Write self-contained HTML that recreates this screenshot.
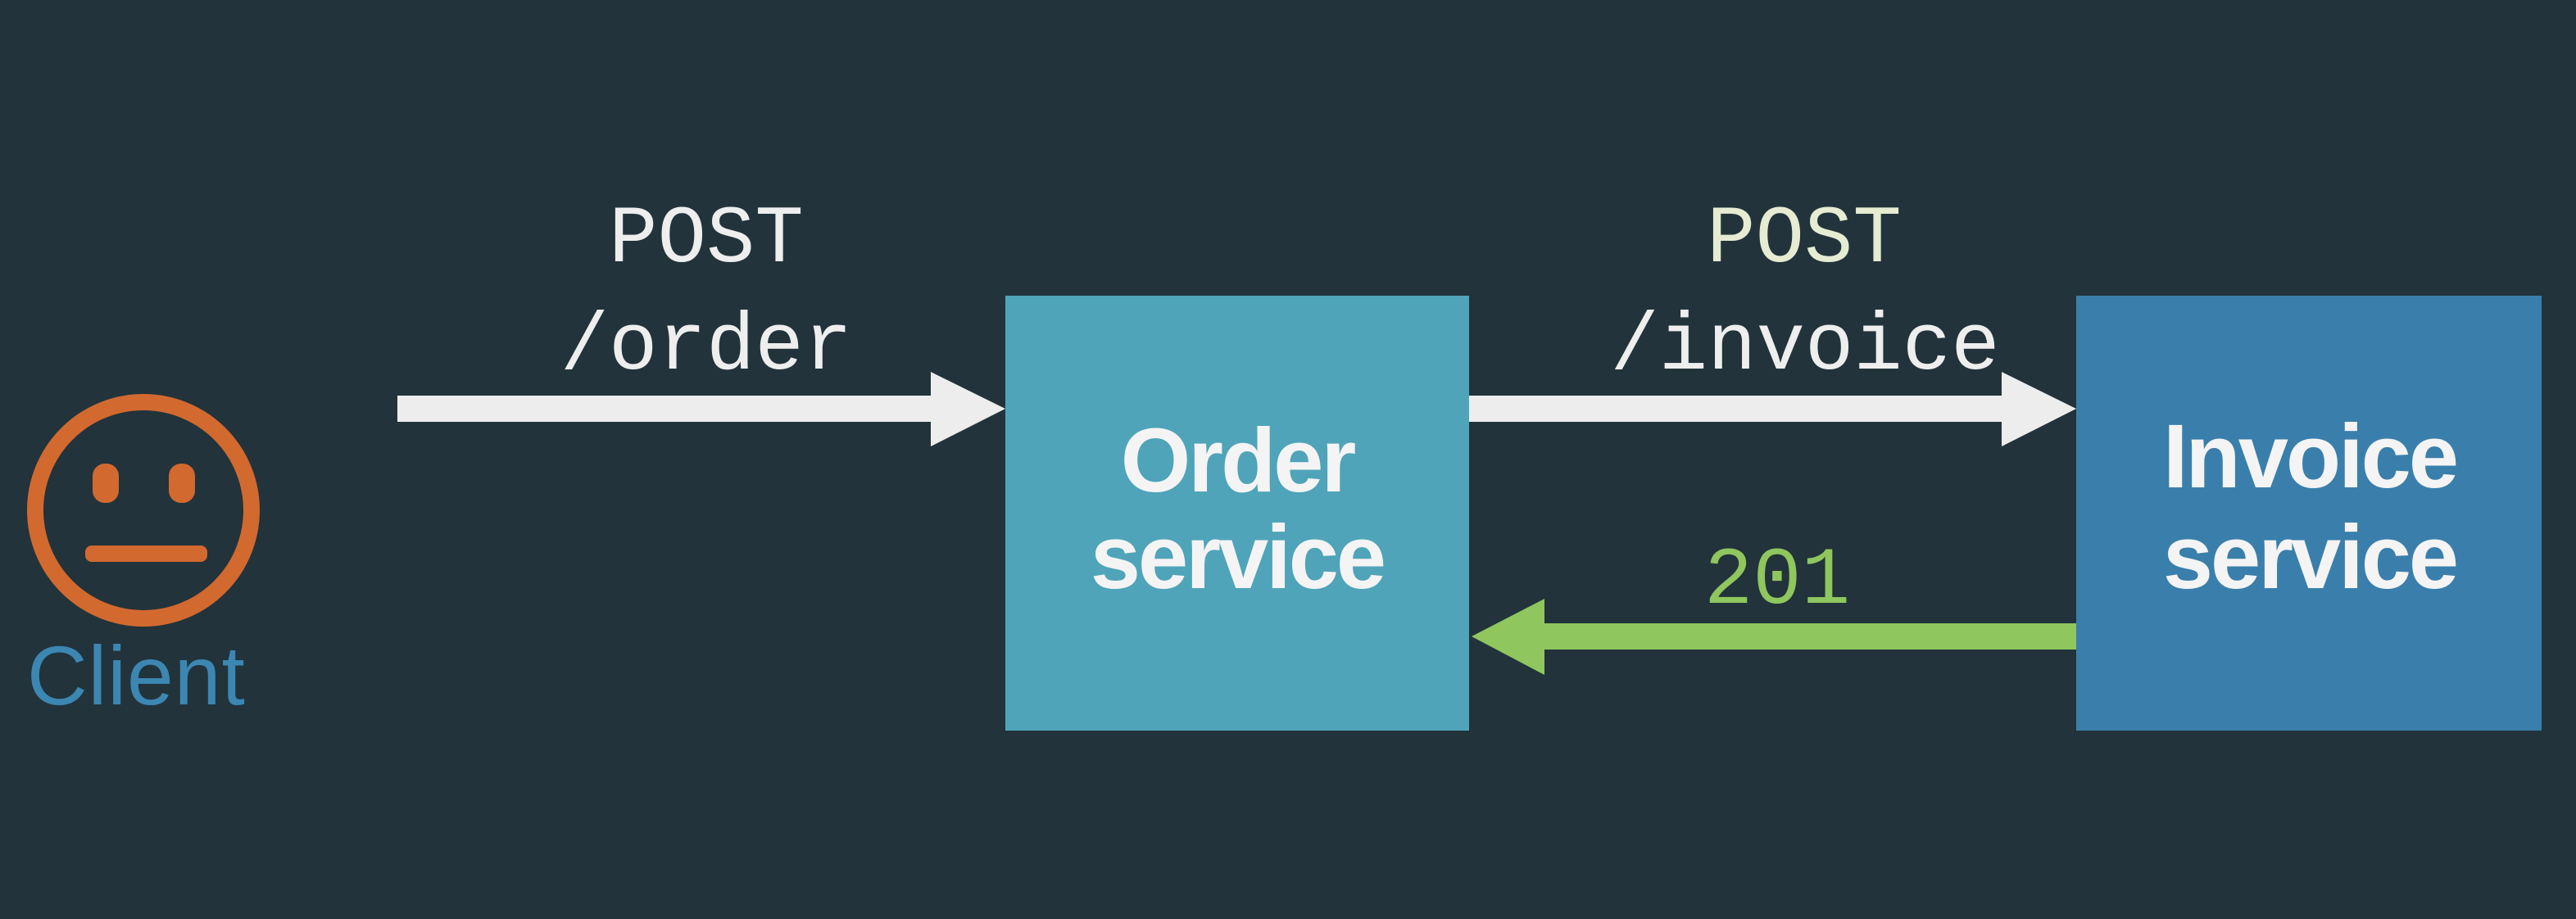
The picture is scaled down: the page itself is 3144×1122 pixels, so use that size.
<!DOCTYPE html>
<html><head><meta charset="utf-8"><style>
html,body{margin:0;padding:0;background:#22333b;}
body{width:3144px;height:1122px;overflow:hidden;position:relative;}
svg{position:absolute;left:0;top:0;}
</style></head><body>
<svg width="3144" height="1122" viewBox="0 0 3144 1122" xmlns="http://www.w3.org/2000/svg">
<rect width="3144" height="1122" fill="#22333b"/>
<rect x="1227" y="361" width="566" height="531" fill="#4fa4b9"/>
<rect x="2534" y="361" width="568" height="531" fill="#3a7fab"/>
<polygon points="485,483 1136,483 1136,454 1227,499 1136,545 1136,515 485,515" fill="#ededed"/>
<polygon points="1793,483 2443,483 2443,454 2534,499 2443,545 2443,515 1793,515" fill="#ededed"/>
<polygon points="2534,761 1885,761 1885,731 1796,777 1885,824 1885,793 2534,793" fill="#8fc65e"/>
<g font-family="Liberation Mono, monospace" font-size="99" text-anchor="middle">
<text x="862" y="319" fill="#eeeeee">POST</text>
<text x="862" y="450" fill="#eeeeee">/order</text>
<text x="2202" y="319" fill="#e6ecd2">POST</text>
<text x="2203" y="450" fill="#eeeeee">/invoice</text>
<text x="2169" y="736" fill="#8fc65e">201</text>
</g>
<g font-family="Liberation Sans, sans-serif" font-size="110" font-weight="bold" fill="#f4f4f4" text-anchor="middle" letter-spacing="-3">
<text x="1510" y="600">Order</text>
<text x="1510" y="718">service</text>
<text x="2819" y="595">Invoice</text>
<text x="2819" y="718">service</text>
</g>
<circle cx="175" cy="623" r="132" fill="none" stroke="#d2692f" stroke-width="20"/>
<rect x="113" y="566" width="32" height="48" rx="15" fill="#d2692f"/>
<rect x="206" y="566" width="32" height="48" rx="15" fill="#d2692f"/>
<rect x="104" y="666" width="149" height="20" rx="8" fill="#d2692f"/>
<text x="33" y="860" font-family="Liberation Sans, sans-serif" font-size="102" fill="#3c86b2" letter-spacing="1">Client</text>
</svg>
</body></html>
